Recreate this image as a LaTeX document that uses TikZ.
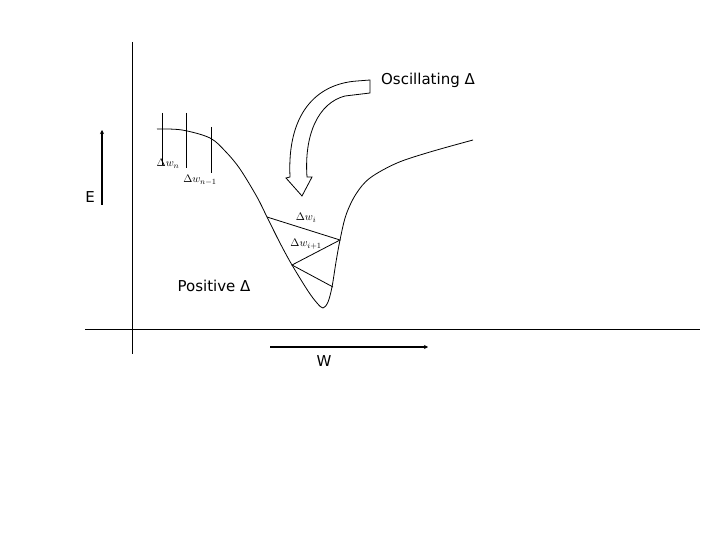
\documentclass[tikz,border=0pt]{standalone}
\usepackage{fontspec}
\newfontfamily\labelfont{DejaVu Sans}
\usetikzlibrary{arrows.meta}
\begin{document}
\begin{tikzpicture}[x=1pt,y=-1pt,
  lbl/.style={font=\labelfont\fontsize{15}{17}\selectfont,inner sep=0pt},
  dw/.style={font=\fontsize{11}{13}\selectfont,inner sep=0pt},
  thinline/.style={line width=0.8pt},
  bigarrow/.style={line width=2pt,-{Stealth[length=4pt,width=4pt]}}]
\useasboundingbox (0,0) rectangle (720,540);

% axes
\coordinate (ytop) at (132,42);
\coordinate (ybot) at (132,354);
\coordinate (xleft) at (85,329);
\coordinate (xright) at (700,329);
\draw[thinline] (ytop) -- (ybot);
\draw[thinline] (xleft) -- (xright);

% E and W
\coordinate (e0) at (102,205);
\coordinate (e1) at (102,130);
\coordinate (w0) at (270,347);
\coordinate (w1) at (428,347);
\draw[bigarrow] (e0) -- (e1);
\draw[bigarrow] (w0) -- (w1);
\node (E) at (90,197) [lbl] {E};
\node (W) at (324,361) [lbl] {W};

% energy curve
\draw[thinline] plot[smooth,tension=0.55] coordinates {
(157,129) (182,130) (210,138) (226,152) (240,169) (257,197) (267,217)
(280,243) (292,265) (308,291) (317,303) (323,308) (328,302) (332,287) (336,262)
(340,240) (346,215) (356,194) (370,178) (397,163) (430,152) (473,140)};

% steps near the top
\coordinate (s1a) at (162,113);
\coordinate (s1b) at (162,165);
\coordinate (s2a) at (186,113);
\coordinate (s2b) at (186,168);
\coordinate (s3a) at (211,127);
\coordinate (s3b) at (211,173);
\draw[thinline] (s1a) -- (s1b);
\draw[thinline] (s2a) -- (s2b);
\draw[thinline] (s3a) -- (s3b);
\node (dwn) at (168,164) [dw] {$\Delta w_n$};
\node (dwn1) at (200,180) [dw] {$\Delta w_{n-1}$};

% steps in the valley
\coordinate (p1) at (267,217);
\coordinate (p2) at (340,240);
\coordinate (p3) at (292,265);
\coordinate (p4) at (333,287);
\draw[thinline] (p1) -- (p2) -- (p3) -- (p4);
\node (dwi) at (306,218) [dw] {$\Delta w_i$};
\node (dwi1) at (306,244) [dw] {$\Delta w_{i+1}$};

% hollow curved arrow
\draw[thinline] (370,80) -- (357,81) .. controls (315,84) and (287,115) .. (290,177)
  -- (286,178) -- (302,196) -- (312,177) -- (307,177)
  .. controls (304,135) and (318,103) .. (345,96) -- (370,93) -- cycle;

\node (osc) at (428,80) [lbl] {Oscillating Δ};
\node (pos) at (214,286) [lbl] {Positive Δ};
\end{tikzpicture}
\end{document}
